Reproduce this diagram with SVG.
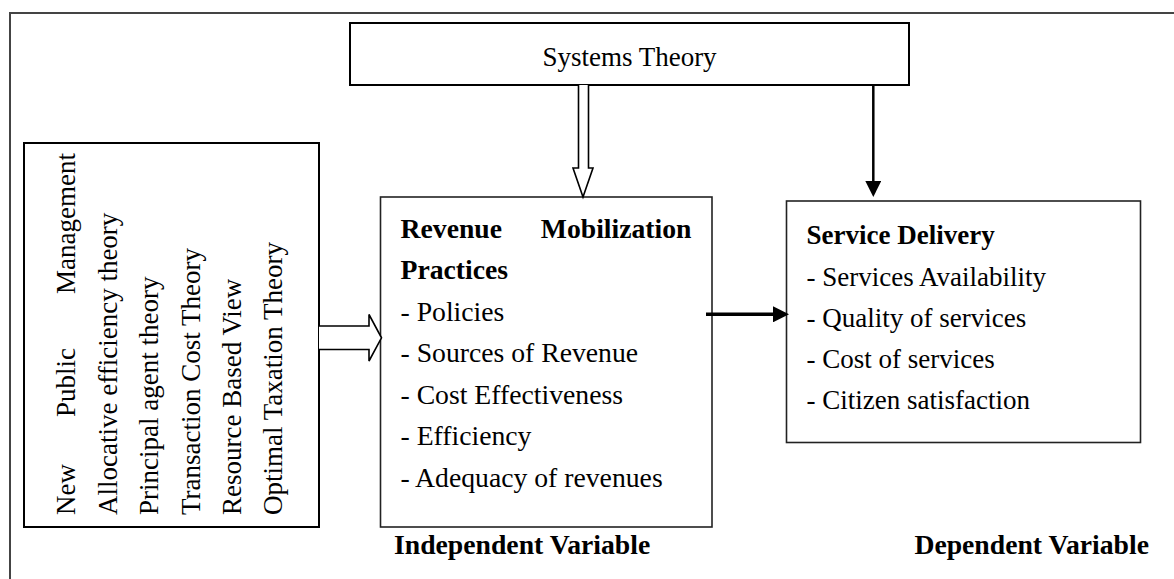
<svg xmlns="http://www.w3.org/2000/svg" width="1174" height="579" viewBox="0 0 1174 579">
<style>
text{font-family:"Liberation Serif","Times New Roman",serif;font-size:27px;fill:#000}
.b{font-weight:bold}
.m{font-size:27.7px}
.box{fill:#fff;stroke:#222;stroke-width:1.6}
.frame{fill:none;stroke:#444;stroke-width:2}
.hollow{fill:#fff;stroke:#000;stroke-width:1.6;stroke-linejoin:miter}
.solid{stroke:#000;fill:none}
</style>
<defs>
<marker id="ah" markerUnits="userSpaceOnUse" viewBox="0 0 16 16" markerWidth="16" markerHeight="16" refX="0" refY="8" orient="auto">
<path d="M0,0 L16,8 L0,16 z" fill="#000"/>
</marker>
</defs>
<rect width="1174" height="579" fill="#fff"/>
<path class="frame" d="M10,579 L10,13 L1174,13"/>

<g id="systems-theory">
<rect x="350" y="23" width="559" height="62" fill="#fff" stroke="#000" stroke-width="2"/>
<text x="629.5" y="66" text-anchor="middle">Systems Theory</text>
</g>

<g id="theories">
<rect x="24" y="143" width="295" height="384" fill="#fff" stroke="#000" stroke-width="2"/>
<g transform="translate(75,515) rotate(-90)">
<text x="0" y="0">New</text>
<text x="98" y="0">Public</text>
<text x="362" y="0" text-anchor="end">Management</text>
</g>
<text transform="translate(116.5,515) rotate(-90)">Allocative efficiency theory</text>
<text transform="translate(158,515) rotate(-90)">Principal agent theory</text>
<text transform="translate(199.5,515) rotate(-90)">Transaction Cost Theory</text>
<text transform="translate(240.5,515) rotate(-90)">Resource Based View</text>
<text transform="translate(282,515) rotate(-90)">Optimal Taxation Theory</text>
</g>

<g id="revenue-mobilization">
<rect class="box" x="380.5" y="197" width="331.5" height="330"/>
<text class="b m" x="400.5" y="237.5">Revenue</text>
<text class="b m" x="691.5" y="237.5" text-anchor="end">Mobilization</text>
<text class="b m" x="400.5" y="279">Practices</text>
<text class="m" x="400.5" y="320.5">- Policies</text>
<text class="m" x="400.5" y="362">- Sources of Revenue</text>
<text class="m" x="400.5" y="403.5">- Cost Effectiveness</text>
<text class="m" x="400.5" y="445">- Efficiency</text>
<text class="m" x="400.5" y="486.5">- Adequacy of revenues</text>
</g>

<g id="independent-label">
<text class="b m" x="394" y="553.5">Independent Variable</text>
</g>

<g id="service-delivery">
<rect class="box" x="786.5" y="201" width="354" height="241.5"/>
<text class="b" x="806.5" y="244">Service Delivery</text>
<text x="806.5" y="286">- Services Availability</text>
<text x="806.5" y="327">- Quality of services</text>
<text x="806.5" y="368">- Cost of services</text>
<text x="806.5" y="409">- Citizen satisfaction</text>
</g>

<g id="dependent-label">
<text class="b m" x="1149" y="553.5" text-anchor="end">Dependent Variable</text>
</g>

<g id="connectors">
<path class="hollow" d="M578.5,85 L578.5,168 L573,168 L583,197 L593,168 L588.5,168 L588.5,85"/>
<path class="hollow" d="M319,326 L369,326 L369,314.5 L381.5,337.8 L369,361 L369,349.5 L319,349.5"/>
<line class="solid" x1="873.3" y1="85" x2="873.3" y2="181" stroke-width="2.5" marker-end="url(#ah)"/>
<line class="solid" x1="706" y1="314.3" x2="773" y2="314.3" stroke-width="3.5" marker-end="url(#ah)"/>
</g>
</svg>
